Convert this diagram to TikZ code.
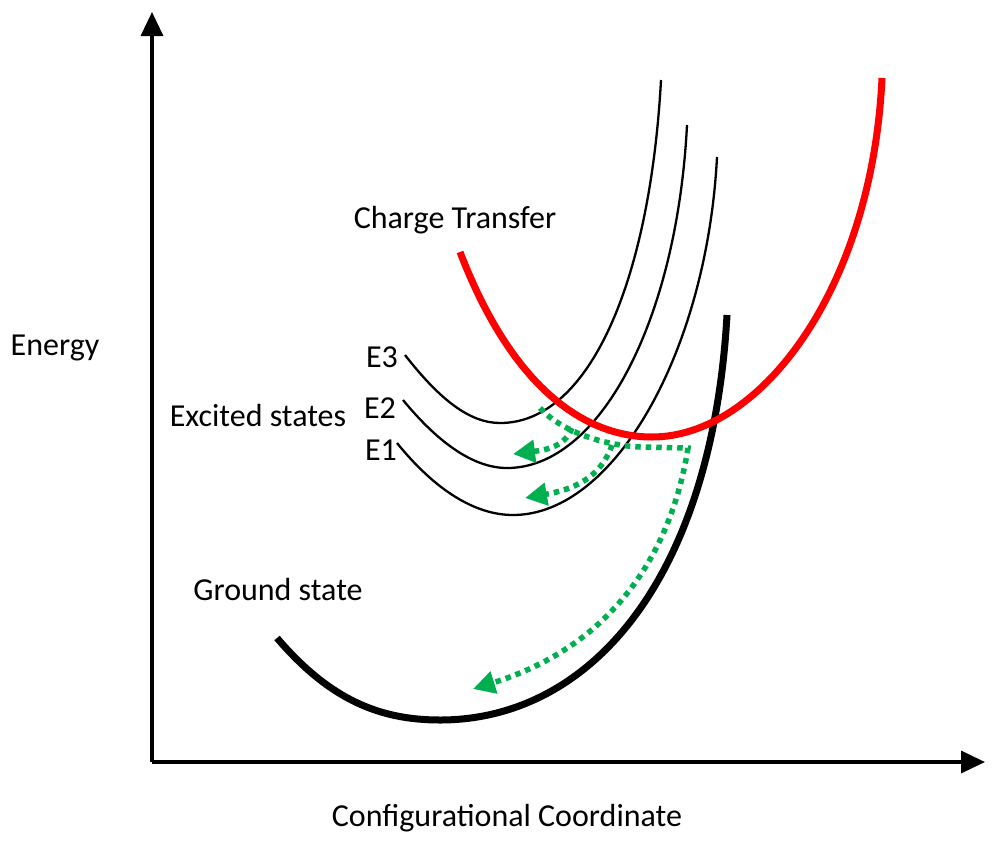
\documentclass[tikz,border=0pt]{standalone}
\usepackage{fontspec}
\setmainfont{Carlito}
\usetikzlibrary{arrows.meta}
\definecolor{cgreen}{RGB}{0,176,80}
\definecolor{cred}{RGB}{255,0,0}
\tikzset{
  axis/.style={line width=3.5pt,-{Triangle[length=24pt,width=22pt]}},
  lbl/.style={font=\fontsize{32}{38}\selectfont,inner sep=0pt},
  thincurve/.style={line width=2.3pt},
  thickcurve/.style={line width=7pt},
  relax/.style={cgreen,line width=5.5pt,dash pattern=on 5.5pt off 5pt,-{Triangle[length=22pt,width=22pt]}},
}
\begin{document}
\begin{tikzpicture}[x=1pt,y=-1pt]
\useasboundingbox (0,0) rectangle (1000,846);
% axes
\coordinate (O) at (152,762);
\coordinate (ytop) at (152,12);
\coordinate (xend) at (985,762);
\draw[axis] (O) -- (ytop);
\draw[axis] (O) -- (xend);
% labels
\node[lbl] (energy) at (55,348) {Energy};
\node[lbl] (xlab) at (507,818) {Configurational Coordinate};
\node[lbl] (ct) at (455,220) {Charge Transfer};
\node[lbl] (exc) at (258,416) {Excited states};
\node[lbl] (gs) at (278,589) {Ground state};
\node[lbl] (e3) at (382,357) {E3};
\node[lbl] (e2) at (380,408) {E2};
\node[lbl] (e1) at (381,450) {E1};
% excited states
\draw[thincurve] (405,355) .. controls (440,400) and (470,423) .. (500,423) .. controls (590,423) and (650,280) .. (661,80);
\draw[thincurve] (403,400) .. controls (440,445) and (475,468) .. (507,468) .. controls (600,468) and (677,320) .. (687,125);
\draw[thincurve] (397,443) .. controls (435,490) and (475,515) .. (513,515) .. controls (615,515) and (707,350) .. (717,157);
% ground state
\draw[thickcurve] (277,638) .. controls (330,700) and (380,720) .. (440,720) .. controls (590,720) and (712,580) .. (727,315);
% charge transfer
\draw[thickcurve,cred] (460,252) .. controls (515,395) and (590,437) .. (652,437) .. controls (760,437) and (872,290) .. (882,78);
% relaxation paths
\coordinate (s) at (540,408);
\coordinate (b1) at (572,428);
\coordinate (b2) at (612,445);
\coordinate (c) at (688,448);
\coordinate (t1) at (513,454);
\coordinate (t2) at (525,498);
\coordinate (t3) at (473,689);
\draw[relax] (s) .. controls (560,430) and (600,445) .. (640,447) -- (c) .. controls (675,530) and (630,640) .. (t3);
\draw[relax] (b1) .. controls (565,447) and (545,450) .. (t1);
\draw[relax] (b2) .. controls (600,480) and (570,490) .. (t2);
\end{tikzpicture}
\end{document}
